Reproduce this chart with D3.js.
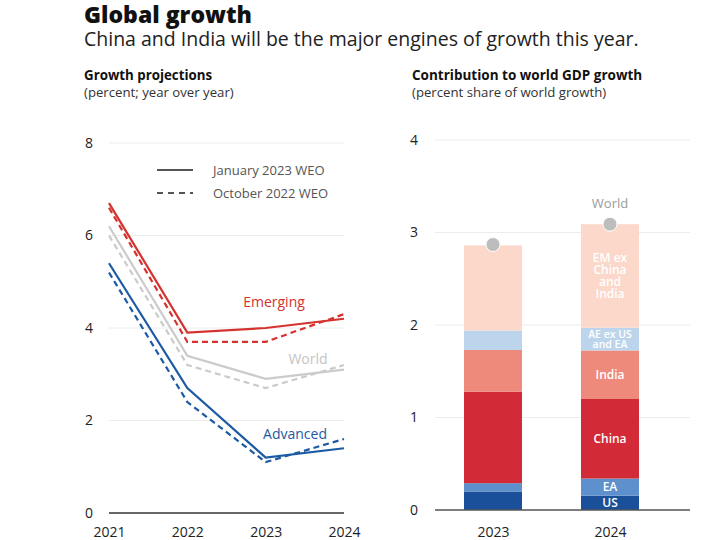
<!DOCTYPE html>
<html><head><meta charset="utf-8">
<script src="https://cdn.jsdelivr.net/npm/d3@7"></script>
<style>body{margin:0;background:#fff}svg{display:block}text{font-family:"Open Sans",Lato,sans-serif}</style>
</head><body>
<svg id="c" width="720" height="540"></svg>
<script>
// Left chart data
const years = [2021, 2022, 2023, 2024];
const emergingJan = [6.7, 3.9, 4.0, 4.2];
const emergingOct = [6.6, 3.7, 3.7, 4.3];
const worldJan = [6.2, 3.4, 2.9, 3.1];
const worldOct = [6.0, 3.2, 2.7, 3.2];
const advancedJan = [5.4, 2.7, 1.2, 1.4];
const advancedOct = [5.2, 2.4, 1.1, 1.6];
const leftTicks = [0, 2, 4, 6, 8];

// Right chart data
const barYears = ["2023", "2024"];
const segNames = ["US", "EA", "China", "India", "AE ex US and EA", "EM ex China and India"];
const usVals = [0.20, 0.155];
const eaVals = [0.09, 0.185];
const chinaVals = [0.99, 0.86];
const indiaVals = [0.45, 0.525];
const aeVals = [0.21, 0.245];
const emVals = [0.92, 1.12];
const worldVals = [2.87, 3.09];
const rightTicks = [0, 1, 2, 3, 4];

const svg = d3.select("#c");
const FONT = '"Open Sans", Lato, sans-serif';

// Titles
svg.append("text").attr("x", 84).attr("y", 23).attr("font-size", 23).attr("font-weight", 800).attr("fill", "#111").text("Global growth");
svg.append("text").attr("x", 84).attr("y", 46).attr("font-size", 19.5).attr("fill", "#222").text("China and India will be the major engines of growth this year.");
svg.append("text").attr("x", 84).attr("y", 80).attr("font-size", 13.3).attr("font-weight", 700).attr("fill", "#111").text("Growth projections");
svg.append("text").attr("x", 84).attr("y", 97).attr("font-size", 13.2).attr("fill", "#333").text("(percent; year over year)");
svg.append("text").attr("x", 412).attr("y", 80).attr("font-size", 13.5).attr("font-weight", 700).attr("fill", "#111").text("Contribution to world GDP growth");
svg.append("text").attr("x", 412).attr("y", 97).attr("font-size", 13.2).attr("fill", "#333").text("(percent share of world growth)");

// ---------- Left chart ----------
const xL = d3.scalePoint().domain(years).range([109, 344]);
const yL = d3.scaleLinear().domain([0, 8]).range([513, 143]);
const gL = svg.append("g");
gL.selectAll("line.grid").data(leftTicks.filter(d => d > 0)).join("line")
  .attr("x1", 109).attr("x2", 344).attr("y1", d => yL(d)).attr("y2", d => yL(d))
  .attr("stroke", "#ececec").attr("stroke-width", 1);
const yAxL = d3.axisLeft(yL).tickValues(leftTicks).tickSize(0).tickPadding(0).tickFormat(d3.format("d"));
gL.append("g").attr("transform", "translate(89,0)").call(yAxL)
  .call(g => g.select(".domain").remove())
  .call(g => g.selectAll("text").attr("font-size", 14).attr("fill", "#222").attr("text-anchor", "middle").attr("font-family", FONT));
gL.append("line").attr("x1", 109).attr("x2", 344).attr("y1", yL(0)).attr("y2", yL(0)).attr("stroke", "#666").attr("stroke-width", 2);
const xAxL = d3.axisBottom(xL).tickSize(0).tickPadding(0);
gL.append("g").attr("transform", "translate(0,537)").call(xAxL)
  .call(g => g.select(".domain").remove())
  .call(g => g.selectAll("text").attr("font-size", 14).attr("fill", "#222").attr("dy", 0).attr("font-family", FONT));

const line = d3.line().x((d, i) => xL(years[i])).y(d => yL(d));
const series = [
  { v: worldOct, c: "#cbcbcb", dash: "6,4" },
  { v: worldJan, c: "#cbcbcb", dash: null },
  { v: advancedOct, c: "#1c5aa3", dash: "6,4" },
  { v: advancedJan, c: "#1c5aa3", dash: null },
  { v: emergingOct, c: "#d5322f", dash: "6,4" },
  { v: emergingJan, c: "#d5322f", dash: null }
];
gL.selectAll("path.s").data(series).join("path")
  .attr("d", d => line(d.v)).attr("fill", "none").attr("stroke", d => d.c)
  .attr("stroke-width", 2.2).attr("stroke-dasharray", d => d.dash);

gL.append("text").attr("x", 274).attr("y", 307).attr("text-anchor", "middle").attr("font-size", 14).attr("fill", "#d5322f").text("Emerging");
gL.append("text").attr("x", 308).attr("y", 364).attr("text-anchor", "middle").attr("font-size", 14).attr("fill", "#c4c4c4").text("World");
gL.append("text").attr("x", 295).attr("y", 439).attr("text-anchor", "middle").attr("font-size", 14).attr("fill", "#1c5aa3").text("Advanced");

// Legend
gL.append("line").attr("x1", 157).attr("x2", 193).attr("y1", 170).attr("y2", 170).attr("stroke", "#555").attr("stroke-width", 2);
gL.append("line").attr("x1", 157).attr("x2", 193).attr("y1", 193).attr("y2", 193).attr("stroke", "#555").attr("stroke-width", 2).attr("stroke-dasharray", "6,5");
gL.append("text").attr("x", 213).attr("y", 175).attr("font-size", 13).attr("fill", "#555").text("January 2023 WEO");
gL.append("text").attr("x", 213).attr("y", 198).attr("font-size", 13).attr("fill", "#555").text("October 2022 WEO");

// ---------- Right chart ----------
const bandX = d3.scalePoint().domain(barYears).range([493, 610]);
const barW = 58;
const yR = d3.scaleLinear().domain([0, 4]).range([510, 140]);
const gR = svg.append("g");
gR.selectAll("line.grid").data(rightTicks.filter(d => d > 0)).join("line")
  .attr("x1", 435).attr("x2", 690).attr("y1", d => yR(d)).attr("y2", d => yR(d))
  .attr("stroke", "#ececec").attr("stroke-width", 1);
const yAxR = d3.axisLeft(yR).tickValues(rightTicks).tickSize(0).tickPadding(0).tickFormat(d3.format("d"));
gR.append("g").attr("transform", "translate(414,0)").call(yAxR)
  .call(g => g.select(".domain").remove())
  .call(g => g.selectAll("text").attr("font-size", 14).attr("fill", "#222").attr("text-anchor", "middle").attr("font-family", FONT));

const segVals = [usVals, eaVals, chinaVals, indiaVals, aeVals, emVals];
const segColors = ["#1a4f99", "#5d90cc", "#d32a37", "#ee8a7b", "#bdd5ec", "#fcd8cb"];
const rows = barYears.map((y, i) => {
  const o = { year: y };
  segNames.forEach((n, k) => o[n] = segVals[k][i]);
  return o;
});
const stack = d3.stack().keys(segNames)(rows);
gR.selectAll("g.layer").data(stack).join("g").attr("fill", (d, k) => segColors[k])
  .selectAll("rect").data(d => d).join("rect")
  .attr("x", d => bandX(d.data.year) - barW / 2).attr("width", barW)
  .attr("y", d => yR(d[1])).attr("height", d => yR(d[0]) - yR(d[1]));

gR.append("line").attr("x1", 435).attr("x2", 690).attr("y1", yR(0)).attr("y2", yR(0)).attr("stroke", "#555").attr("stroke-width", 1.5);
const xAxR = d3.axisBottom(bandX).tickSize(0).tickPadding(0);
gR.append("g").attr("transform", "translate(0,537)").call(xAxR)
  .call(g => g.select(".domain").remove())
  .call(g => g.selectAll("text").attr("font-size", 14).attr("fill", "#222").attr("dy", 0).attr("font-family", FONT));

// World dots
gR.selectAll("circle.w").data(worldVals).join("circle")
  .attr("cx", (d, i) => bandX(barYears[i])).attr("cy", d => yR(d))
  .attr("r", 7).attr("fill", "#bdbdbd").attr("stroke", "#fff").attr("stroke-width", 1);
gR.append("text").attr("x", bandX("2024")).attr("y", 208).attr("text-anchor", "middle").attr("font-size", 13).attr("fill", "#9a9a9a").text("World");

// Segment labels on 2024 bar
const lbl = [
  { k: 0, lines: ["US"] },
  { k: 1, lines: ["EA"] },
  { k: 2, lines: ["China"] },
  { k: 3, lines: ["India"] },
  { k: 4, lines: ["AE ex US", "and EA"] },
  { k: 5, lines: ["EM ex", "China", "and", "India"] }
];
const d24 = 1;
lbl.forEach(L => {
  const s = stack[L.k][d24];
  const cy = (yR(s[0]) + yR(s[1])) / 2;
  const small = L.k === 4;
  const lh = small ? 10 : 12;
  const fs = small ? 10.5 : 12;
  const n = L.lines.length;
  L.lines.forEach((t, j) => {
    gR.append("text").attr("x", bandX("2024")).attr("y", cy + (j - (n - 1) / 2) * lh + fs * 0.36)
      .attr("text-anchor", "middle").attr("font-size", fs).attr("font-weight", 600)
      .attr("fill", "#fff").text(t);
  });
});
</script>
</body></html>
